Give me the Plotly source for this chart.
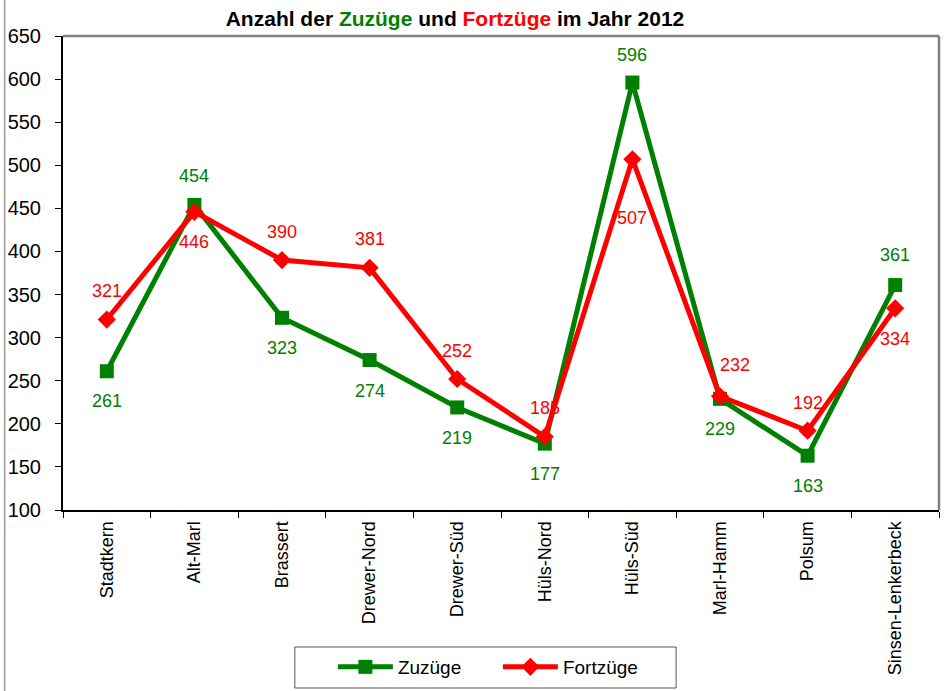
import plotly.graph_objects as go

categories = ["Stadtkern", "Alt-Marl", "Brassert", "Drewer-Nord", "Drewer-Süd",
              "Hüls-Nord", "Hüls-Süd", "Marl-Hamm", "Polsum", "Sinsen-Lenkerbeck"]
zuzuege = [261, 454, 323, 274, 219, 177, 596, 229, 163, 361]
fortzuege = [321, 446, 390, 381, 252, 185, 507, 232, 192, 334]
y_ticks = [100, 150, 200, 250, 300, 350, 400, 450, 500, 550, 600, 650]

# label placement (pixels, positive = below)
z_dy = [30, -29, 30, 31, 31, 30, -28, 30, 30, -30]
f_dy = [-29, 30, -28, -29, -28, -29, 59, -31, -28, 31]
f_dx = [0, 0, 0, 0, 0, 0, 0, 15, 0, 0]

GREEN = "#008000"
RED = "#FF0000"
FONT = "Liberation Sans, Arial, sans-serif"

fig = go.Figure()
fig.add_trace(go.Scatter(
    x=categories, y=zuzuege, name="Zuzüge", mode="lines+markers",
    line=dict(color=GREEN, width=5),
    marker=dict(symbol="square", size=14, color=GREEN),
))
fig.add_trace(go.Scatter(
    x=categories, y=fortzuege, name="Fortzüge", mode="lines+markers",
    line=dict(color=RED, width=5),
    marker=dict(symbol="diamond", size=14, color=RED),
))

annotations = []
for c, v, dy in zip(categories, zuzuege, z_dy):
    annotations.append(dict(x=c, y=v, xref="x", yref="y", text=str(v), showarrow=False,
                            yshift=-dy, font=dict(color=GREEN, size=18, family=FONT)))
for c, v, dy, dx in zip(categories, fortzuege, f_dy, f_dx):
    annotations.append(dict(x=c, y=v, xref="x", yref="y", text=str(v), showarrow=False,
                            yshift=-dy, xshift=dx, font=dict(color=RED, size=18, family=FONT)))

PW = 875.4
PH = 474.0
def px(x):
    return (x - 63.3) / PW
def py(y):
    return (510 - y) / PH

fig.update_layout(
    width=944, height=691,
    margin=dict(l=63, r=5, t=36, b=181, autoexpand=False),
    paper_bgcolor="white", plot_bgcolor="white",
    font=dict(family=FONT, size=18, color="black"),
    title=dict(
        text="<b>Anzahl der <span style='color:#008000'>Zuzüge</span> und "
             "<span style='color:#FF0000'>Fortzüge</span> im Jahr 2012</b>",
        x=455 / 944, xref="container", xanchor="center",
        y=1 - 19 / 691, yref="container", yanchor="middle",
        font=dict(size=21, family=FONT, color="black"),
    ),
    xaxis=dict(
        type="category", range=[-0.5, len(categories) - 0.5],
        tickangle=-90, tickson="boundaries",
        ticks="outside", ticklen=6, tickcolor="black", tickwidth=1,
        showline=True, linecolor="black", linewidth=2,
        showgrid=False, zeroline=False, ticklabelstandoff=2,
        tickfont=dict(size=18, family=FONT),
    ),
    yaxis=dict(
        range=[100, 650], tickvals=y_ticks,
        ticks="outside", ticklen=6, tickcolor="black", tickwidth=1,
        showline=True, linecolor="black", linewidth=2,
        showgrid=False, zeroline=False, ticklabelstandoff=10,
        tickfont=dict(size=20, family=FONT),
    ),
    legend=dict(
        orientation="h", x=px(333), xanchor="left",
        y=py(667), yanchor="middle",
        borderwidth=0, bgcolor="rgba(0,0,0,0)",
        font=dict(size=19, family=FONT), itemwidth=55,
        entrywidth=95, entrywidthmode="pixels",
    ),
    annotations=annotations,
    shapes=[
        # gray plot-area border top & right
        dict(type="line", xref="paper", yref="paper", x0=0, x1=1, y0=1, y1=1,
             line=dict(color="#808080", width=2.5)),
        dict(type="line", xref="paper", yref="paper", x0=1, x1=1, y0=0, y1=1,
             line=dict(color="#808080", width=2.5)),
        # outer left frame line
        dict(type="line", xref="paper", yref="paper",
             x0=px(5), x1=px(5), y0=py(691), y1=py(0),
             line=dict(color="#999999", width=1.5)),
        # legend frame
        dict(type="rect", xref="paper", yref="paper",
             x0=px(295), x1=px(676), y0=py(688), y1=py(647),
             line=dict(color="#555555", width=1), fillcolor="rgba(0,0,0,0)"),
    ],
)

fig.write_html("out.html", config={"displayModeBar": False},
               post_script="document.body.style.margin='0';")
